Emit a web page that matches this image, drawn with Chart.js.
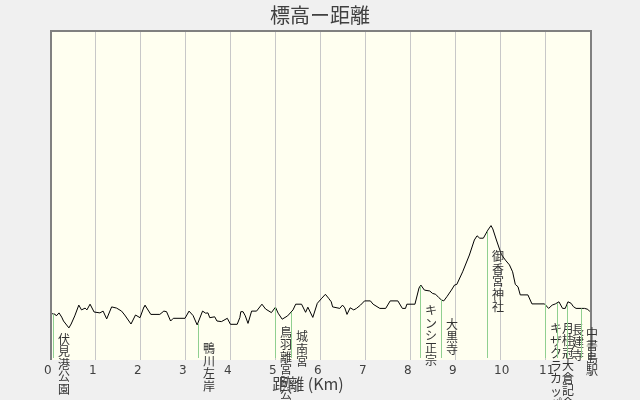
<!DOCTYPE html>
<html lang="ja">
<head>
    <meta charset="UTF-8">
    <title>標高ー距離</title>
    <script src="https://cdn.jsdelivr.net/npm/chart.js"></script>
    <style>
        body {
            margin: 0;
            background-color: #f0f0f0;
        }
        canvas {
            display: block;
        }
    </style>
</head>
<body>
    <canvas id="profileChart" width="640" height="400"></canvas>

    <script>
        // 距離 (km) と 標高
        const distKm = [
            0.00, 0.02, 0.06, 0.11, 0.14, 0.20, 0.26, 0.30, 0.42, 0.47, 0.55, 0.64, 0.70, 0.78, 0.82, 0.89, 0.98,
            1.11, 1.18, 1.26, 1.37, 1.48, 1.59, 1.66, 1.80, 1.90, 2.00, 2.09, 2.11, 2.24, 2.44, 2.53, 2.59, 2.68,
            2.74, 3.00, 3.09, 3.18, 3.27, 3.39, 3.46, 3.51, 3.55, 3.66, 3.71, 3.81, 3.94, 4.01, 4.16, 4.22, 4.24,
            4.29, 4.34, 4.40, 4.48, 4.59, 4.71, 4.79, 4.92, 5.01, 5.07, 5.16, 5.28, 5.40, 5.46, 5.59, 5.68, 5.73,
            5.84, 5.94, 6.04, 6.12, 6.19, 6.25, 6.28, 6.44, 6.50, 6.55, 6.60, 6.67, 6.75, 6.81, 6.90, 6.99, 7.12,
            7.18, 7.33, 7.46, 7.56, 7.73, 7.83, 7.90, 7.93, 8.11, 8.20, 8.24, 8.32, 8.44, 8.50, 8.57, 8.64, 8.70,
            8.75, 8.82, 8.92, 8.99, 9.04, 9.17, 9.32, 9.43, 9.49, 9.55, 9.63, 9.73, 9.80, 9.84, 9.92, 10.03, 10.12,
            10.21, 10.28, 10.34, 10.40, 10.45, 10.62, 10.71, 10.99, 11.08, 11.16, 11.23, 11.31, 11.39, 11.45,
            11.51, 11.58, 11.63, 11.69, 11.88, 11.95, 12.00
        ];
        const elevation = [
            20.7, 16.0, 15.3, 15.3, 14.7, 15.7, 14.3, 13.0, 10.7, 12.0, 14.7, 18.3, 16.7, 17.3, 16.7, 18.6, 16.0,
            15.7, 16.3, 13.7, 17.7, 17.3, 16.3, 15.0, 12.0, 15.0, 14.1, 17.8, 18.3, 15.2, 15.2, 16.3, 16.1, 13.0,
            13.9, 13.9, 16.3, 14.8, 11.7, 16.3, 15.6, 15.7, 14.1, 14.4, 13.0, 12.8, 13.9, 11.9, 11.9, 14.2, 16.1,
            16.1, 14.7, 12.2, 16.3, 16.3, 18.6, 17.0, 15.8, 17.6, 15.6, 13.6, 14.7, 16.7, 18.6, 18.6, 15.9, 17.6,
            14.2, 18.9, 20.6, 21.9, 20.6, 19.4, 17.7, 17.2, 18.3, 17.4, 15.2, 17.4, 16.7, 17.2, 18.3, 19.7, 19.7,
            18.6, 17.2, 17.2, 19.7, 19.7, 17.2, 17.2, 18.6, 18.6, 24.0, 25.0, 23.3, 23.0, 22.2, 21.9, 20.8, 20.0,
            19.7, 21.1, 23.3, 25.0, 25.2, 29.4, 35.0, 40.0, 41.4, 40.6, 40.6, 43.3, 44.8, 43.7, 40.0, 35.2, 33.3,
            31.7, 29.4, 25.2, 24.4, 21.7, 21.7, 18.7, 18.7, 17.2, 18.3, 18.7, 19.4, 17.2, 17.2,
            19.4, 18.9, 17.8, 17.2, 17.2, 16.9, 16.1
        ];

        // 目標地点
        const placeNames = [
            '伏見港公園', '鴨川左岸', '鳥羽離宮跡公園', '城南宮', 'キンシ正宗', '大黒寺',
            '御香宮神社', 'キザクラカッパカントリー', '月桂冠大倉記念館', '長建寺', '中書島駅'
        ];
        const placeKm = [0.07, 3.28, 5.01, 5.36, 8.23, 8.69, 9.71, 10.99, 11.26, 11.48, 11.80];

        const xTicks = [0, 1, 2, 3, 4, 5, 6, 7, 8, 9, 10, 11];

        // 線形補間で地点の標高を求める
        function elevationAt(km) {
            for (let i = 1; i < distKm.length; i++) {
                if (km <= distKm[i]) {
                    const t = (km - distKm[i - 1]) / (distKm[i] - distKm[i - 1]);
                    return elevation[i - 1] + t * (elevation[i] - elevation[i - 1]);
                }
            }
            return elevation[elevation.length - 1];
        }

        const backgroundPlugin = {
            id: 'backgroundPlugin',
            beforeDraw: (chart) => {
                const ctx = chart.ctx;
                const a = chart.chartArea;
                ctx.save();
                ctx.fillStyle = '#f0f0f0';
                ctx.fillRect(0, 0, chart.width, chart.height);
                ctx.fillStyle = '#fffff0';
                ctx.fillRect(a.left, a.top, a.right - a.left, a.bottom - a.top);
                ctx.restore();
            }
        };

        const placesPlugin = {
            id: 'placesPlugin',
            afterDraw: (chart) => {
                const ctx = chart.ctx;
                const a = chart.chartArea;
                const xs = chart.scales.x;
                const ys = chart.scales.y;

                ctx.save();
                // 枠線 (上・左・右)
                ctx.strokeStyle = '#808080';
                ctx.lineWidth = 2;
                ctx.beginPath();
                ctx.moveTo(a.left + 1, a.bottom);
                ctx.lineTo(a.left + 1, a.top + 1);
                ctx.lineTo(a.right + 1, a.top + 1);
                ctx.lineTo(a.right + 1, a.bottom);
                ctx.stroke();

                // 地点の縦線と縦書きラベル
                placeNames.forEach((name, i) => {
                    const x = Math.round(xs.getPixelForValue(placeKm[i])) + 0.5;
                    const y = ys.getPixelForValue(elevationAt(placeKm[i]));
                    ctx.strokeStyle = '#90d090';
                    ctx.lineWidth = 1;
                    ctx.beginPath();
                    ctx.moveTo(x, y);
                    ctx.lineTo(x, a.bottom - 2);
                    ctx.stroke();

                    ctx.fillStyle = '#333333';
                    ctx.font = '12px "Noto Sans CJK JP"';
                    ctx.textAlign = 'center';
                    ctx.textBaseline = 'top';
                    Array.from(name).forEach((ch, j) => {
                        ctx.fillText(ch, x + 10.5, y + 19 + j * 12.5);
                    });
                });

                // 軸タイトル
                ctx.fillStyle = '#404040';
                ctx.font = '16px "Noto Sans CJK JP"';
                ctx.textAlign = 'center';
                ctx.textBaseline = 'middle';
                ctx.fillText('距離 (Km)', 308, 384);
                ctx.restore();
            }
        };

        const config = {
            type: 'line',
            data: {
                datasets: [{
                    data: distKm.map((km, i) => ({ x: km, y: elevation[i] })),
                    borderColor: '#000000',
                    borderWidth: 1,
                    pointRadius: 0,
                    tension: 0,
                    fill: false
                }]
            },
            options: {
                responsive: false,
                animation: false,
                events: [],
                layout: {
                    padding: { left: 50, right: 50, top: 0, bottom: 0 }
                },
                plugins: {
                    legend: { display: false },
                    tooltip: { enabled: false },
                    title: {
                        display: true,
                        text: '標高ー距離',
                        color: '#404040',
                        font: { family: '"Noto Sans CJK JP"', size: 20, weight: 'normal' },
                        padding: { top: 3, bottom: 3 }
                    }
                },
                scales: {
                    x: {
                        type: 'linear',
                        min: 0,
                        max: 12,
                        afterFit: (scale) => { scale.height = 40; },
                        afterBuildTicks: (scale) => {
                            scale.ticks = xTicks.map(v => ({ value: v }));
                        },
                        ticks: {
                            align: 'start',
                            labelOffset: -6,
                            padding: 4,
                            color: '#404040',
                            font: { family: '"DejaVu Sans"', size: 12 },
                            maxRotation: 0,
                            autoSkip: false
                        },
                        grid: {
                            color: '#c8c8c8',
                            lineWidth: 1,
                            drawTicks: false
                        },
                        border: { display: false }
                    },
                    y: {
                        display: false,
                        min: 0,
                        max: 110
                    }
                }
            },
            plugins: [backgroundPlugin, placesPlugin]
        };

        new Chart(document.getElementById('profileChart'), config);
    </script>
</body>
</html>
